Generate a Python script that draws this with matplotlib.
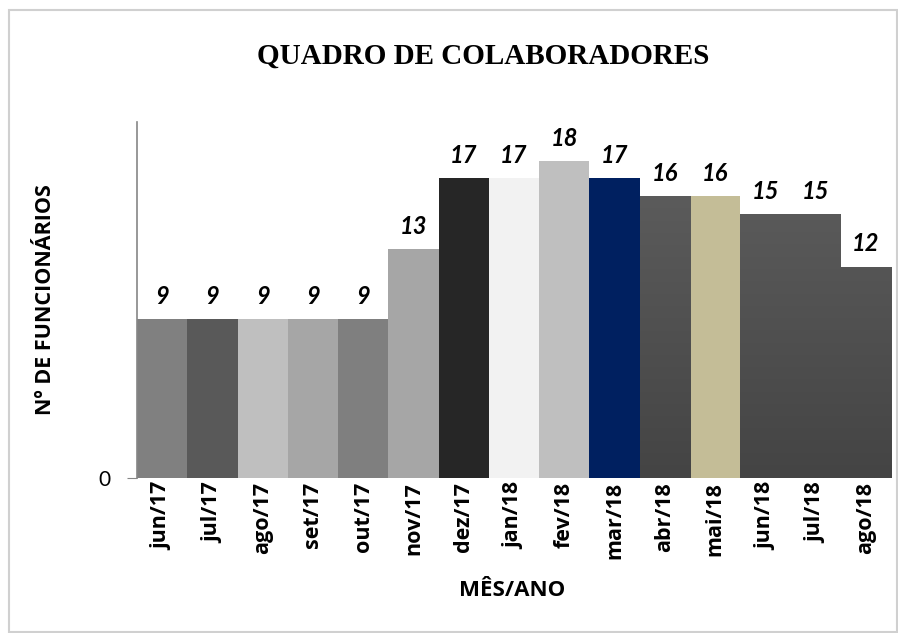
import matplotlib
matplotlib.use("Agg")
import matplotlib.pyplot as plt
import numpy as np
from matplotlib.colors import LinearSegmentedColormap
from matplotlib.patches import Rectangle

months = ["jun/17", "jul/17", "ago/17", "set/17", "out/17", "nov/17", "dez/17",
          "jan/18", "fev/18", "mar/18", "abr/18", "mai/18", "jun/18", "jul/18", "ago/18"]
values = [9, 9, 9, 9, 9, 13, 17, 17, 18, 17, 16, 16, 15, 15, 12]
colors = ["#808080", "#595959", "#bfbfbf", "#a6a6a6", "#7f7f7f", "#a6a6a6", "#262626",
          "#f2f2f2", "#bfbfbf", "#002060", "#5a5a5a", "#c4bd97", "#5a5a5a", "#5a5a5a", "#5a5a5a"]
gradient = [False] * 10 + [True, False, True, True, True]

title = "QUADRO DE COLABORADORES"
xlabel = "MÊS/ANO"
ylabel = "Nº DE FUNCIONÁRIOS"

fig = plt.figure(figsize=(8.98, 6.33), dpi=100)
# outer frame
fig.patches.append(Rectangle((9 / 898, 1 / 633), 888 / 898, 622 / 633, transform=fig.transFigure,
                             fill=False, edgecolor="#d0d0d0", linewidth=1.5))

ax = fig.add_axes([137 / 898, 1 - 478 / 633, (891 - 137) / 898, (478 - 122) / 633])
x = np.arange(len(values))
bars = ax.bar(x, values, width=1.0, color=colors, linewidth=0, zorder=2)
ax.set_xlim(-0.5, len(values) - 0.5)
ax.set_ylim(0, 20.2)

grad_cmap = LinearSegmentedColormap.from_list("g", ["#444444", "#616161"])
for b, g in zip(bars, gradient):
    if g:
        bx = b.get_x()
        w = b.get_width()
        grad = np.linspace(0, 1, 256).reshape(-1, 1)
        im = ax.imshow(grad, cmap=grad_cmap, origin="lower", aspect="auto",
                       extent=(bx, bx + w, 0, 20.2), zorder=3, vmin=0, vmax=1)
        im.set_clip_path(b)

for xi, v in zip(x, values):
    ax.annotate(str(v), (xi, v), xytext=(0, 8), textcoords="offset points",
                ha="center", va="bottom", fontsize=17, fontweight="bold",
                fontstyle="italic", family="Lato", color="black")

for s in ["top", "right", "bottom"]:
    ax.spines[s].set_visible(False)
ax.spines["left"].set_color("#868686")
ax.spines["left"].set_linewidth(1.2)
ax.set_yticks([0])
ax.set_yticklabels(["0"], fontsize=15, family="Lato")
ax.tick_params(axis="y", length=7, color="#868686", pad=12)
ax.set_xticks(x)
ax.set_xticklabels(months, rotation=90, fontsize=15.5, fontweight="bold", family="Open Sans")
ax.tick_params(axis="x", length=0, pad=3)

fig.text(512 / 898, 1 - 590 / 633, xlabel, ha="center", va="center",
         fontsize=16, fontweight="bold", family="Open Sans")
fig.text(46 / 898, 1 - 300 / 633, ylabel, ha="center", va="center", rotation=90,
         fontsize=15.5, fontweight="bold", family="Open Sans")
fig.text(483 / 898, 1 - 56 / 633, title, ha="center", va="center",
         fontsize=21, fontweight="bold", family="Liberation Serif")

fig.savefig("out.png", dpi=100)
